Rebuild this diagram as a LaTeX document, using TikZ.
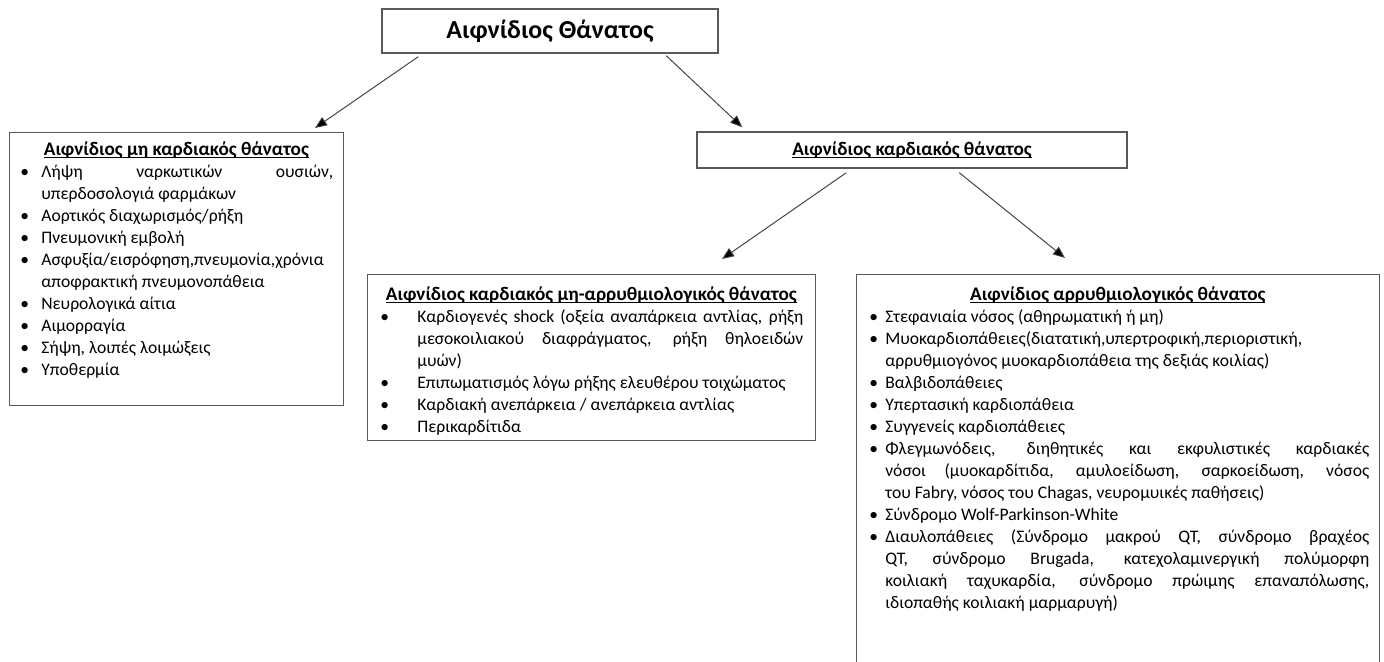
\documentclass[tikz,border=0pt]{standalone}
\usepackage{fontspec}
\setmainfont{Carlito}
\usepackage{enumitem}
\usetikzlibrary{
    calc,
    arrows.meta
}
\setlist[itemize]{nosep,label=\textbullet,align=left,labelwidth=4pt,labelsep=*}
\hyphenpenalty=10000
\exhyphenpenalty=10000
\tolerance=10000
\hfuzz=30pt
\newcommand{\uln}[1]{\setbox0\hbox{#1}\rlap{\rule[-1.9pt]{\wd0}{0.7pt}}\box0}
\newcommand{\hdr}[1]{\centerline{\fontsize{12}{13.75}\selectfont\strut\bfseries\uln{#1}}}

\begin{document}
\begin{tikzpicture}[x=0.625pt,y=-0.625pt,
    frame/.style={draw=black!65,line width=0.9pt,inner sep=0pt},
    txt/.style={anchor=north west,inner sep=0pt,align=justify,font=\fontsize{11}{13.75}\selectfont},
    link/.style={draw=black!75,line width=0.6pt,-{Triangle[length=7.5pt,width=6pt,fill=black]}}]

\fill[white] (0,0) rectangle (1384,662);
\useasboundingbox (0,0) rectangle (1384,662);
\clip (0,0) rectangle (1384,662);

\node[frame,minimum width=210pt,minimum height=27.5pt,font=\fontsize{16.2}{19}\selectfont\bfseries] (top) at (550,31) {Αιφνίδιος Θάνατος};

\node[frame,anchor=north west,minimum width=208.75pt,minimum height=170.625pt] (noncard) at (9,132) {};
\node[txt,text width=196.25pt] (noncardtxt) at (19,139.6) {%
\hdr{Αιφνίδιος μη καρδιακός θάνατος}
\begin{itemize}[leftmargin=13.75pt,labelindent=0.625pt]
\item Λήψη ναρκωτικών ουσιών, \linebreak υπερδοσολογιά φαρμάκων
\item Αορτικός διαχωρισμός/ρήξη
\item Πνευμονική εμβολή
\item Ασφυξία/εισρόφηση,πνευμονία,χρόνια \linebreak αποφρακτική πνευμονοπάθεια
\item Νευρολογικά αίτια
\item Αιμορραγία
\item Σήψη, λοιπές λοιμώξεις
\item Υποθερμία
\end{itemize}};

\node[frame,minimum width=268.75pt,minimum height=22.5pt,font=\fontsize{12}{13.75}\selectfont\bfseries] (card) at (912,150) {\uln{Αιφνίδιος καρδιακός θάνατος}};

\node[frame,anchor=north west,minimum width=280pt,minimum height=103.75pt] (nonarr) at (367,274) {};
\node[txt,text width=265pt] (nonarrtxt) at (379,284.6) {%
\hdr{Αιφνίδιος καρδιακός μη-αρρυθμιολογικός θάνατος}
\begin{itemize}[leftmargin=23.75pt,labelindent=0.625pt]
\item Καρδιογενές shock (οξεία αναπάρκεια αντλίας, ρήξη \linebreak μεσοκοιλιακού διαφράγματος, ρήξη θηλοειδών \linebreak μυών)
\item Επιπωματισμός λόγω ρήξης ελευθέρου τοιχώματος
\item Καρδιακή ανεπάρκεια / ανεπάρκεια αντλίας
\item Περικαρδίτιδα
\end{itemize}};

\node[frame,anchor=north west,minimum width=326.875pt,minimum height=275pt] (arr) at (856,274) {};
\node[txt,text width=314.375pt] (arrtxt) at (866,284.6) {%
\hdr{Αιφνίδιος αρρυθμιολογικός θάνατος}
\begin{itemize}[leftmargin=11.875pt,labelindent=1.875pt]
\item Στεφανιαία νόσος (αθηρωματική ή μη)
\item Μυοκαρδιοπάθειες(διατατική,υπερτροφική,περιοριστική, \linebreak αρρυθμιογόνος μυοκαρδιοπάθεια της δεξιάς κοιλίας)
\item Βαλβιδοπάθειες
\item Υπερτασική καρδιοπάθεια
\item Συγγενείς καρδιοπάθειες
\item Φλεγμωνόδεις, διηθητικές και εκφυλιστικές καρδιακές \linebreak νόσοι (μυοκαρδίτιδα, αμυλοείδωση, σαρκοείδωση, νόσος \linebreak του Fabry, νόσος του Chagas, νευρομυικές παθήσεις)
\item Σύνδρομο Wolf-Parkinson-White
\item Διαυλοπάθειες (Σύνδρομο μακρού QT, σύνδρομο βραχέος \linebreak QT, σύνδρομο Brugada, κατεχολαμινεργική πολύμορφη \linebreak κοιλιακή ταχυκαρδία, σύνδρομο πρώιμης επαναπόλωσης, \linebreak ιδιοπαθής κοιλιακή μαρμαρυγή)
\end{itemize}};

\draw[link] ($(top.south west)+(37,3)$) -- ($(noncard.north west)+(306,-4)$);
\draw[link] ($(top.south west)+(285,2)$) -- ($(card.north west)+(46,-4)$);
\draw[link] ($(card.south west)+(150,4)$) -- ($(nonarr.north west)+(355,-15)$);
\draw[link] ($(card.south west)+(263,4)$) -- ($(arr.north west)+(209,-16)$);

\end{tikzpicture}
\end{document}
